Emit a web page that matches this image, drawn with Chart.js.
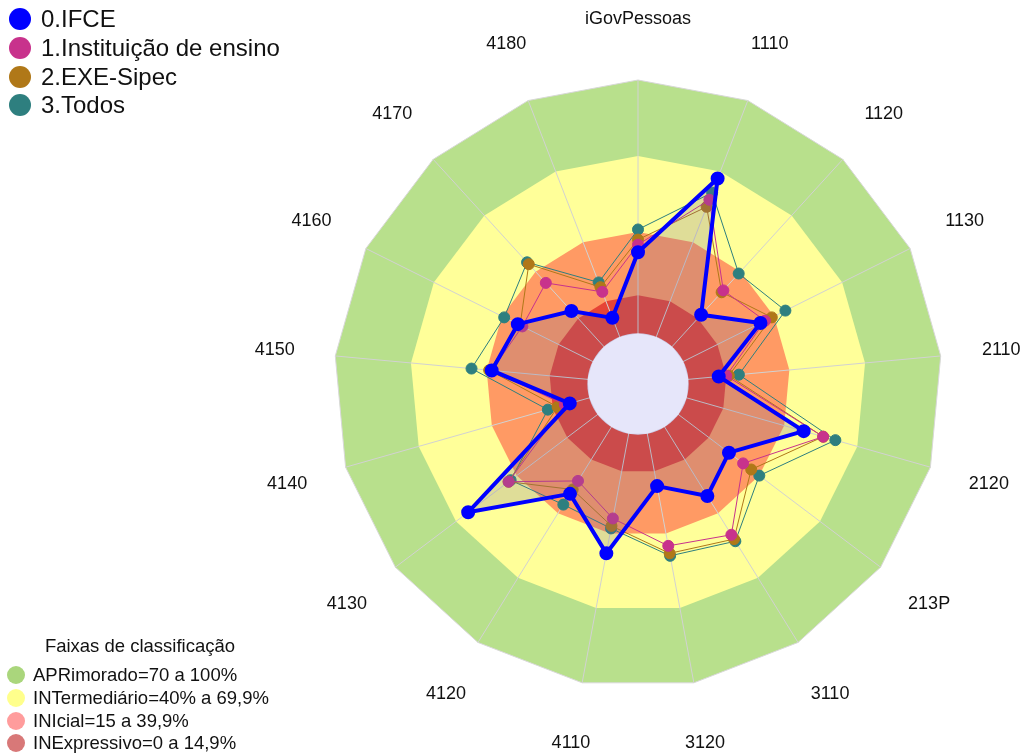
<!DOCTYPE html>
<html>
<head>
<meta charset="utf-8">
<script src="https://cdn.jsdelivr.net/npm/chart.js@4.4.1/dist/chart.umd.min.js"></script>
<style>
  body { margin: 0; background: #fff; font-family: "Liberation Sans", Arial, sans-serif; }
  #wrap { position: relative; width: 1022px; height: 753px; }
  canvas { position: absolute; left: 0; top: 0; }
  .leg { position: absolute; white-space: nowrap; color: #111; }
  .dot { position: absolute; border-radius: 50%; }
</style>
</head>
<body>
<div id="wrap">
  <canvas id="myChart" width="1022" height="753"></canvas>
  <div id="legSeries"></div>
  <div id="legBands"></div>
</div>
<script>
// eixos do radar
var eixos = ["iGovPessoas", "1110", "1120", "1130", "2110", "2120", "213P", "3110", "3120",
             "4110", "4120", "4130", "4140", "4150", "4160", "4170", "4180"];

// series (0 a 1)
var ifce  = [0.32, 0.67, 0.17, 0.34, 0.12, 0.48, 0.25, 0.32, 0.21, 0.48, 0.31, 0.64, 0.08, 0.38, 0.33, 0.19, 0.08];
var inst  = [0.35, 0.58, 0.30, 0.36, 0.15, 0.56, 0.32, 0.50, 0.45, 0.34, 0.25, 0.44, 0.10, 0.38, 0.31, 0.34, 0.19];
var sipec = [0.37, 0.55, 0.29, 0.39, 0.16, 0.56, 0.36, 0.52, 0.48, 0.37, 0.29, 0.44, 0.13, 0.39, 0.32, 0.44, 0.21];
var todos = [0.41, 0.61, 0.39, 0.45, 0.20, 0.61, 0.40, 0.53, 0.49, 0.38, 0.36, 0.43, 0.17, 0.46, 0.39, 0.45, 0.23];

var nomesSeries = ["0.IFCE", "1.Instituição de ensino", "2.EXE-Sipec", "3.Todos"];
var coresSeries = ["#0000FF", "#C8328C", "#B07818", "#2E7F7F"];

// faixas de classificacao
var faixasLimite = [1, 0.7, 0.4, 0.15];
var faixasNome = ["APRimorado=70 a 100%", "INTermediário=40% a 69,9%", "INIcial=15 a 39,9%", "INExpressivo=0 a 14,9%"];
var faixasCor = ["#B8E08C", "#FFFF99", "#FF9A64", "#E64436"];
var faixasLegenda = ["#AAD67C", "#FFFF8C", "#FF9C9C", "#D87878"];

// legendas em html
var legS = document.getElementById("legSeries");
nomesSeries.forEach(function(n, i) {
    var y = 19 + i * 28.8;
    legS.innerHTML += '<div class="dot" style="left:9px;top:' + (y - 11) + 'px;width:22px;height:22px;background:' + coresSeries[i] + '"></div>' +
        '<div class="leg" style="left:41px;top:' + (y - 15) + 'px;font-size:24px;line-height:30px">' + n + '</div>';
});
var legB = document.getElementById("legBands");
legB.innerHTML = '<div class="leg" style="left:40px;width:200px;text-align:center;top:634px;font-size:18.5px;line-height:24px">Faixas de classificação</div>';
faixasNome.forEach(function(n, i) {
    var y = 675 + i * 22.8;
    legB.innerHTML += '<div class="dot" style="left:7px;top:' + (y - 9) + 'px;width:18px;height:18px;background:' + faixasLegenda[i] + '"></div>' +
        '<div class="leg" style="left:33px;top:' + (y - 12) + 'px;font-size:18.5px;line-height:24px">' + n + '</div>';
});

// fundo com as faixas, disco central e rotulos
var faixasPlugin = {
    id: 'faixas',
    beforeDraw: function(chart) {
        var ctx = chart.ctx, sc = chart.scales.r;
        faixasLimite.forEach(function(v, k) {
            ctx.beginPath();
            for (var i = 0; i < eixos.length; i++) {
                var p = sc.getPointPositionForValue(i, v);
                if (i === 0) ctx.moveTo(p.x, p.y); else ctx.lineTo(p.x, p.y);
            }
            ctx.closePath();
            ctx.fillStyle = faixasCor[k];
            ctx.fill();
            if (k === 0) { ctx.strokeStyle = '#D8D8D8'; ctx.lineWidth = 1; ctx.stroke(); }
        });
    },
    beforeDatasetsDraw: function(chart) {
        var ctx = chart.ctx, sc = chart.scales.r;
        ctx.beginPath();
        ctx.arc(sc.xCenter, sc.yCenter, sc.getDistanceFromCenterForValue(0), 0, Math.PI * 2);
        ctx.fillStyle = '#E6E6FA';
        ctx.fill();
    },
    afterDraw: function(chart) {
        var ctx = chart.ctx, sc = chart.scales.r;
        ctx.save();
        ctx.font = '18px "Liberation Sans", Arial, sans-serif';
        ctx.fillStyle = '#111';
        ctx.textAlign = 'center';
        ctx.textBaseline = 'middle';
        for (var i = 0; i < eixos.length; i++) {
            var p = sc.getPointPosition(i, sc.drawingArea * 1.2);
            ctx.fillText(eixos[i], p.x, p.y);
        }
        ctx.restore();
    }
};

window.onload = function() {
    new Chart(document.getElementById("myChart").getContext('2d'), {
        type: 'radar',
        data: {
            labels: eixos,
            datasets: [
                { label: nomesSeries[0], data: ifce, borderColor: coresSeries[0], backgroundColor: 'rgba(110,100,150,0.22)',
                  fill: true, borderWidth: 4, pointRadius: 5, pointBackgroundColor: coresSeries[0], pointBorderColor: coresSeries[0] },
                { label: nomesSeries[1], data: inst, borderColor: coresSeries[1], fill: false, borderWidth: 1,
                  pointRadius: 5.5, pointBackgroundColor: coresSeries[1], pointBorderColor: coresSeries[1] },
                { label: nomesSeries[2], data: sipec, borderColor: coresSeries[2], fill: false, borderWidth: 1,
                  pointRadius: 5.5, pointBackgroundColor: coresSeries[2], pointBorderColor: coresSeries[2] },
                { label: nomesSeries[3], data: todos, borderColor: coresSeries[3], fill: false, borderWidth: 1,
                  pointRadius: 5.5, pointBackgroundColor: coresSeries[3], pointBorderColor: coresSeries[3] }
            ]
        },
        options: {
            responsive: false,
            animation: false,
            layout: { padding: { left: 334, right: 80, top: 80, bottom: 65 } },
            elements: { line: { tension: 0 } },
            scales: {
                r: {
                    min: -0.2,
                    max: 1,
                    ticks: { display: false },
                    grid: { display: false },
                    angleLines: { color: '#D2D2D2', lineWidth: 1 },
                    pointLabels: { display: false }
                }
            },
            plugins: {
                legend: { display: false },
                tooltip: { enabled: false }
            }
        },
        plugins: [faixasPlugin]
    });
};
</script>
</body>
</html>
